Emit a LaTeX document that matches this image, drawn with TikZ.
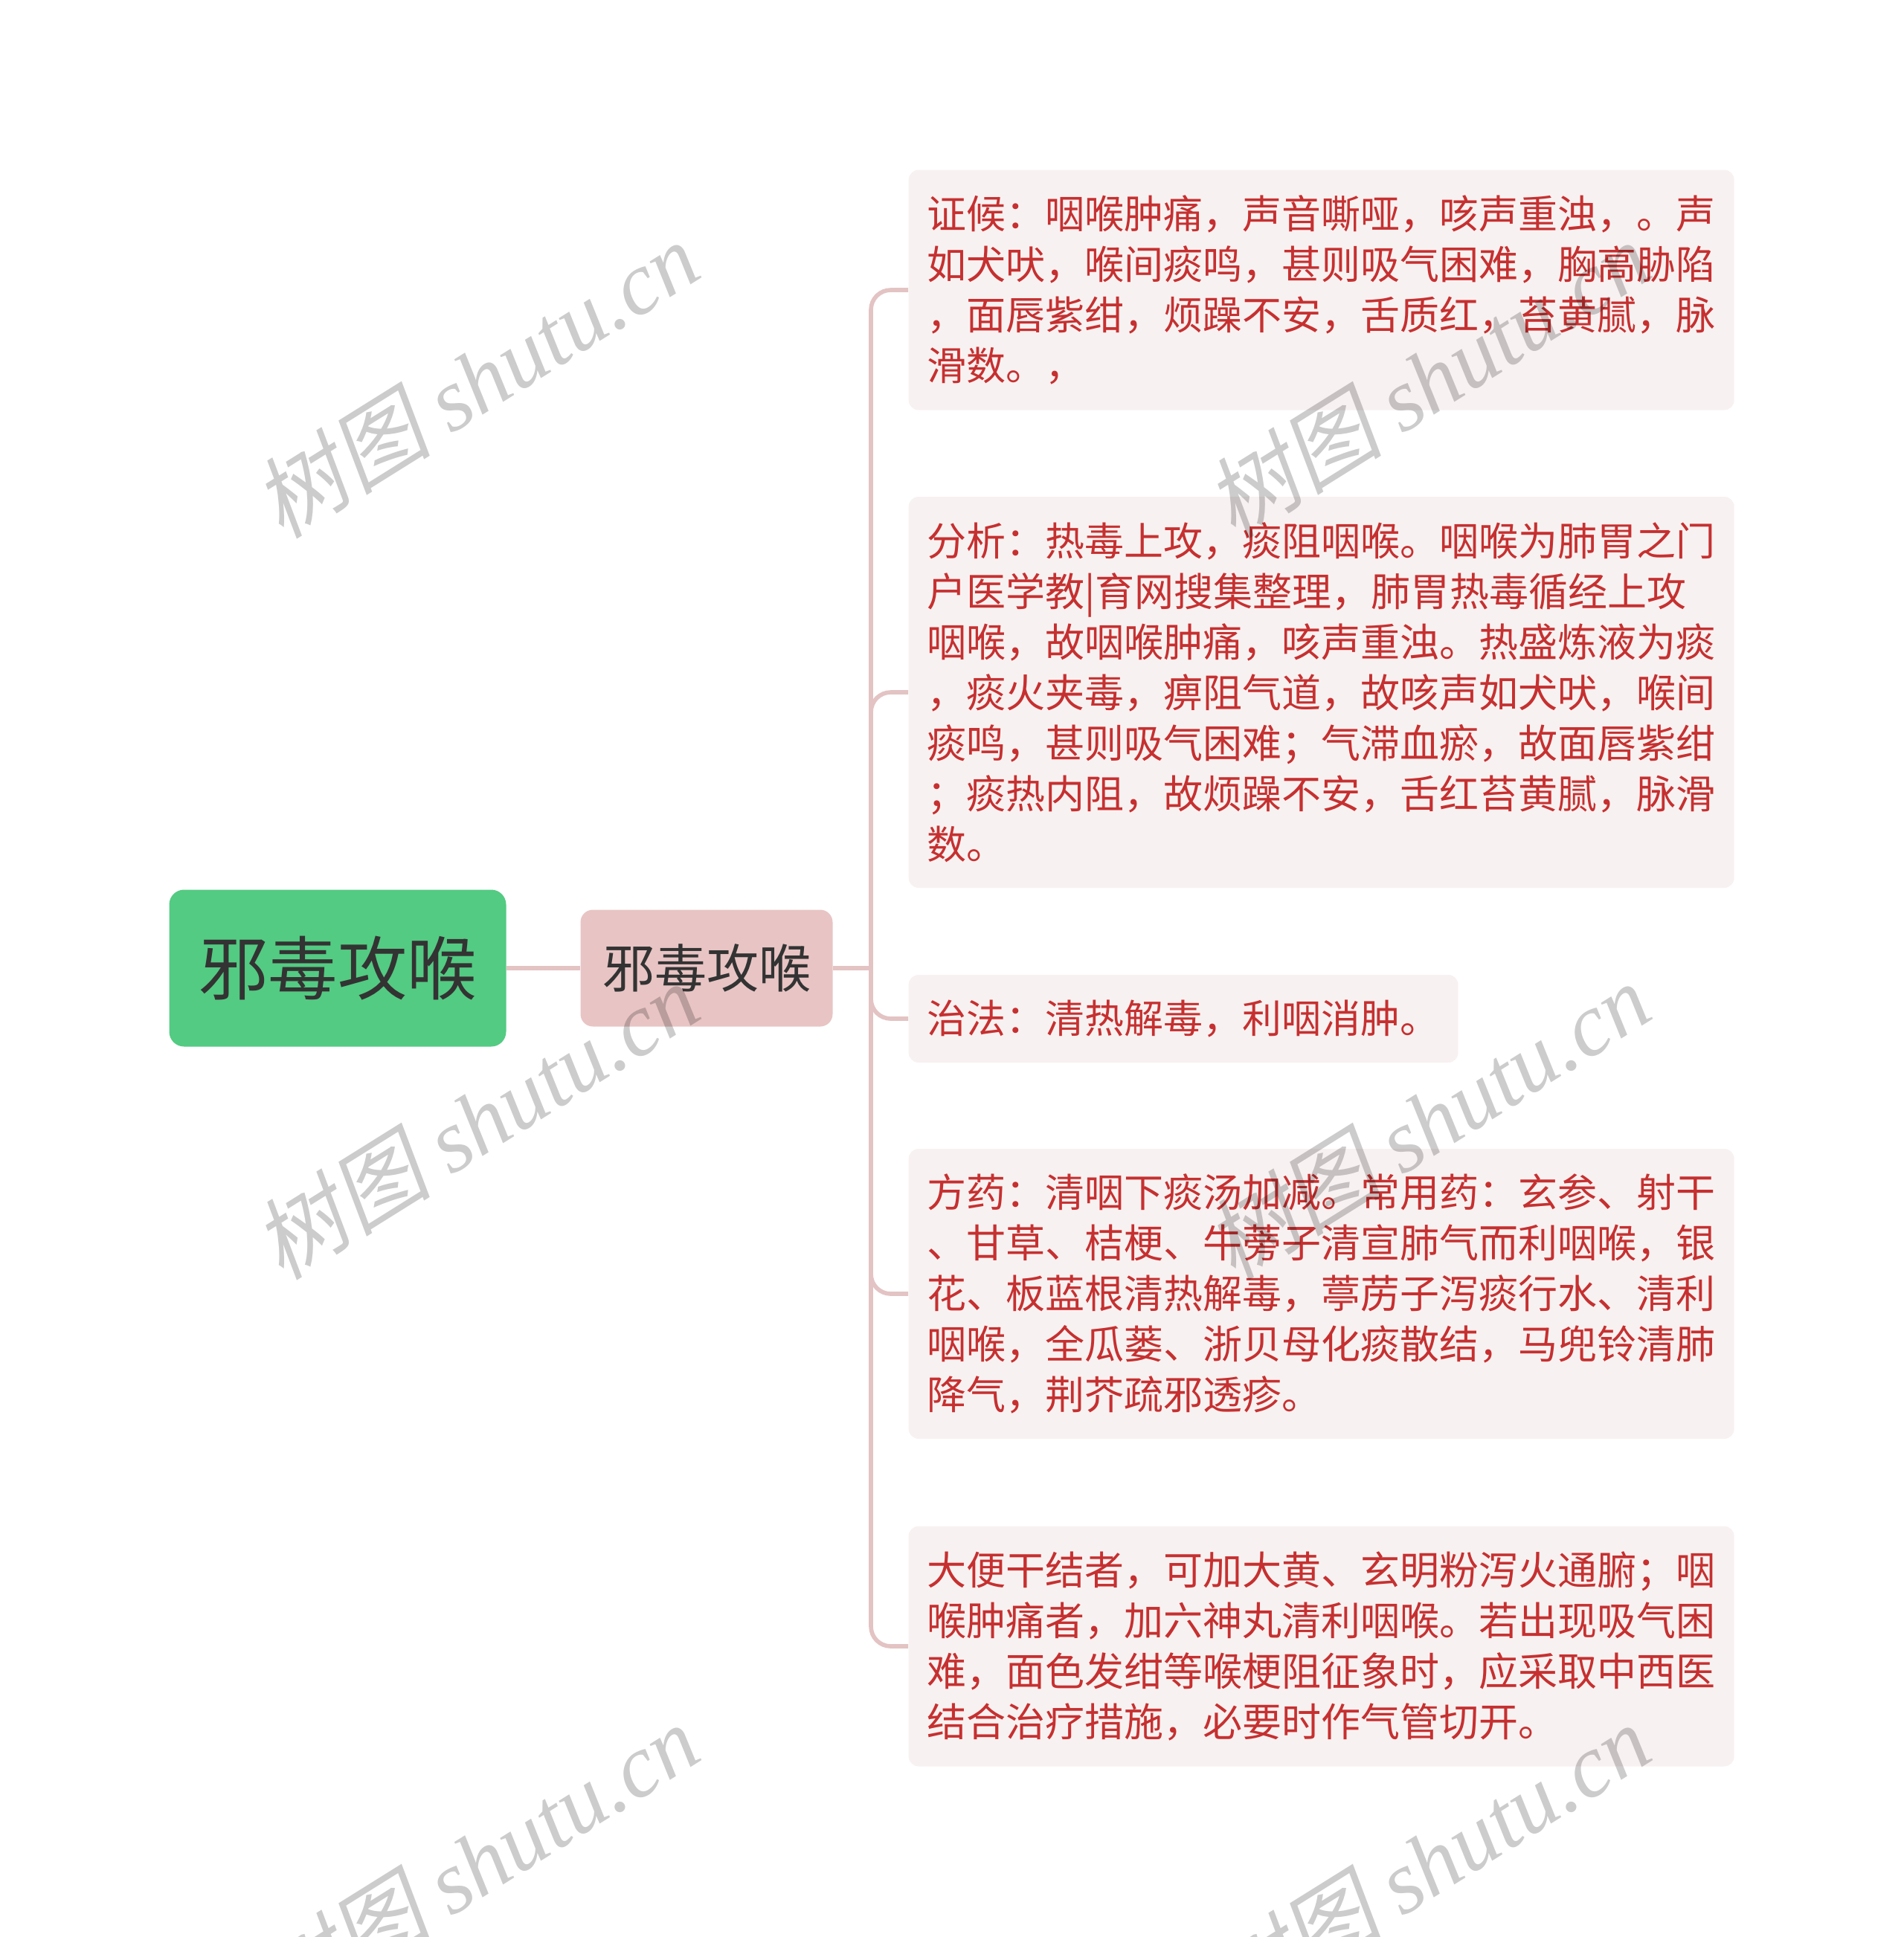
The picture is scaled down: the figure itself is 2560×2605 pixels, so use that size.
\documentclass[tikz,border=0pt]{standalone}
\usepackage{fontspec}
\setmainfont{Noto Sans CJK SC}
\newfontfamily\wmcjk[FakeSlant=0.2]{Noto Sans CJK SC}
\newfontfamily\wmlatin{Liberation Serif}
\definecolor{rootgreen}{RGB}{83,203,130}
\definecolor{subpink}{RGB}{232,196,196}
\definecolor{leaffill}{RGB}{248,241,241}
\definecolor{leafred}{RGB}{198,48,48}
\definecolor{textdark}{RGB}{51,51,51}
\definecolor{connpink}{RGB}{227,195,195}
\begin{document}
\begin{tikzpicture}[x=0.3pt,y=-0.3pt,
  rootbox/.style={fill=rootgreen, rounded corners=6pt, minimum width=135.9pt, minimum height=63.3pt, inner sep=0pt, text=textdark, font=\fontsize{28pt}{28pt}\selectfont},
  subbox/.style={fill=subpink, rounded corners=5pt, minimum width=101.7pt, minimum height=47.1pt, inner sep=0pt, text=textdark, font=\fontsize{21pt}{21pt}\selectfont},
  leafbox/.style={fill=leaffill, rounded corners=4pt, anchor=west, text=leafred, align=left, inner xsep=7.5pt, inner ysep=0pt, font=\fontsize{15.9pt}{20.4pt}\selectfont},
  widebox/.style={leafbox, text width=318pt},
  conn/.style={draw=connpink, line width=1.7pt},
  wm/.style={rotate=32, text=black, opacity=0.2, font=\fontsize{36pt}{36pt}\selectfont}
]
\useasboundingbox (0,0) rectangle (2560,2605);

\node[rootbox] (root) at (454,1302) {邪毒攻喉};
\node[subbox] (sub) at (950,1302) {邪毒攻喉};

\node[widebox, minimum height=96.9pt] (b1) at (1221,390) {证候：咽喉肿痛，声音嘶哑，咳声重浊，。声\\如犬吠，喉间痰鸣，甚则吸气困难，胸高胁陷\\，面唇紫绀，烦躁不安，舌质红，苔黄腻，脉\\滑数。，};
\node[widebox, minimum height=157.8pt] (b2) at (1221,931) {分析：热毒上攻，痰阻咽喉。咽喉为肺胃之门\\户医学教|育网搜集整理，肺胃热毒循经上攻\\咽喉，故咽喉肿痛，咳声重浊。热盛炼液为痰\\，痰火夹毒，痹阻气道，故咳声如犬吠，喉间\\痰鸣，甚则吸气困难；气滞血瘀，故面唇紫绀\\；痰热内阻，故烦躁不安，舌红苔黄腻，脉滑\\数。};
\node[leafbox, minimum height=35.4pt] (b3) at (1221,1370) {治法：清热解毒，利咽消肿。};
\node[widebox, minimum height=117pt] (b4) at (1221,1740) {方药：清咽下痰汤加减。常用药：玄参、射干\\、甘草、桔梗、牛蒡子清宣肺气而利咽喉，银\\花、板蓝根清热解毒，葶苈子泻痰行水、清利\\咽喉，全瓜蒌、浙贝母化痰散结，马兜铃清肺\\降气，荆芥疏邪透疹。};
\node[widebox, minimum height=96.9pt] (b5) at (1221,2214) {大便干结者，可加大黄、玄明粉泻火通腑；咽\\喉肿痛者，加六神丸清利咽喉。若出现吸气困\\难，面色发绀等喉梗阻征象时，应采取中西医\\结合治疗措施，必要时作气管切开。};

\coordinate (trunk) at (1171,1302);
\draw[conn] (root.east) -- (sub.west);
\draw[conn] (sub.east) -- (trunk);
\foreach \b in {b1,b2,b3,b4,b5}
  \draw[conn, rounded corners=8pt] (trunk) |- (\b.west);

\foreach \p/\n in {{(640,510)}/w1,{(1919,510)}/w2,{(640,1507)}/w3,{(1919,1507)}/w4,{(640,2504)}/w5,{(1919,2504)}/w6}
  \node[wm] (\n) at \p {{\wmcjk 树图} {\wmlatin\itshape shutu.cn}};
\end{tikzpicture}
\end{document}
